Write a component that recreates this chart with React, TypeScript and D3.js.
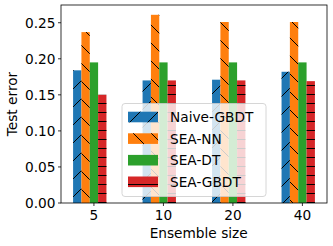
import React from 'react'
import * as d3 from 'd3'

const width = 333
const height = 246
const plot = { left: 61, right: 327, top: 5, bottom: 203 }

const sizes = ['5', '10', '20', '40']
const methods = ['Naive-GBDT', 'SEA-NN', 'SEA-DT', 'SEA-GBDT']
const naiveGbdt = [0.184, 0.170, 0.171, 0.182]
const seaNn = [0.237, 0.261, 0.251, 0.251]
const seaDt = [0.195, 0.195, 0.195, 0.195]
const seaGbdt = [0.150, 0.170, 0.170, 0.169]
const yTicks = [0, 0.05, 0.1, 0.15, 0.2, 0.25]

const series = [naiveGbdt, seaNn, seaDt, seaGbdt]
const colors = ['#1f77b4', '#ff7f0e', '#2ca02c', '#d62728']
const fills = ['url(#hatchFwd)', 'url(#hatchBack)', null, 'url(#hatchHoriz)']
const barW = 0.12

const font = 'DejaVu Sans, sans-serif'

const App = () => {
  const x = d3.scaleLinear().domain([-0.474, 3.354]).range([plot.left, plot.right])
  const y = d3.scaleLinear().domain([0, 0.2746]).range([plot.bottom, plot.top])
  const bw = x(barW) - x(0)

  const legendX = 122
  const legendY = 103.5
  const rowH = 21.6

  return (
    <svg width={width} height={height} style={{ position: 'absolute', left: 0, top: 0 }}
      fontFamily={font}>
      <defs>
        <pattern id='hatchFwd' patternUnits='userSpaceOnUse' width={18} height={18}>
          <path d='M0,18 L18,0 M-4.5,4.5 L4.5,-4.5 M13.5,22.5 L22.5,13.5' stroke='black' strokeWidth={1} />
        </pattern>
        <pattern id='hatchBack' patternUnits='userSpaceOnUse' width={18} height={18}>
          <path d='M0,0 L18,18 M-4.5,13.5 L4.5,22.5 M13.5,-4.5 L22.5,4.5' stroke='black' strokeWidth={1} />
        </pattern>
        <pattern id='hatchHoriz' patternUnits='userSpaceOnUse' width={9} height={9}>
          <path d='M0,4.5 L9,4.5' stroke='black' strokeWidth={1} />
        </pattern>
      </defs>
      <rect x={plot.left} y={plot.top} width={plot.right - plot.left} height={plot.bottom - plot.top} fill='white' />

      {series.map((vals, s) => (
        <g key={methods[s]}>
          {vals.map((v, i) => {
            const bx = x(i + (s - 2.5) * barW)
            return (
              <g key={i}>
                <rect x={bx} y={y(v)} width={bw} height={y(0) - y(v)} fill={colors[s]} />
                {fills[s] && <rect x={bx} y={y(v)} width={bw} height={y(0) - y(v)} fill={fills[s]} />}
              </g>
            )
          })}
        </g>
      ))}

      {/* axes */}
      <rect x={plot.left} y={plot.top} width={plot.right - plot.left} height={plot.bottom - plot.top}
        fill='none' stroke='black' strokeWidth={0.8} />
      {yTicks.map(t => (
        <g key={t} transform={`translate(0,${y(t)})`}>
          <line x1={plot.left - 3} x2={plot.left} stroke='black' strokeWidth={0.8} />
          <text x={plot.left - 5.5} dy='0.36em' textAnchor='end' fontSize={13.7}>{t.toFixed(2)}</text>
        </g>
      ))}
      {sizes.map((s, i) => (
        <g key={s} transform={`translate(${x(i)},0)`}>
          <line y1={plot.bottom} y2={plot.bottom + 3} stroke='black' strokeWidth={0.8} />
          <text y={220} textAnchor='middle' fontSize={13.7}>{s}</text>
        </g>
      ))}
      <text x={x(1.5) + 0.5} y={238} textAnchor='middle' fontSize={13.7}>Ensemble size</text>
      <text transform={`translate(17,${(plot.top + plot.bottom) / 2}) rotate(-90)`} textAnchor='middle'
        fontSize={13.7}>Test error</text>

      {/* legend */}
      <rect x={legendX} y={legendY} width={144} height={93} rx={3} fill='white' fillOpacity={0.8}
        stroke='#cccccc' strokeWidth={0.8} />
      {methods.map((m, s) => {
        const cy = legendY + 13.5 + s * rowH
        return (
          <g key={m}>
            <rect x={legendX + 6} y={cy - 5.3} width={30} height={10.6} fill={colors[s]} />
            {fills[s] && <rect x={legendX + 6} y={cy - 5.3} width={30} height={10.6} fill={fills[s]} />}
            <text x={legendX + 48} y={cy} dy='0.36em' fontSize={13.7}>{m}</text>
          </g>
        )
      })}
    </svg>
  )
}

export default App
